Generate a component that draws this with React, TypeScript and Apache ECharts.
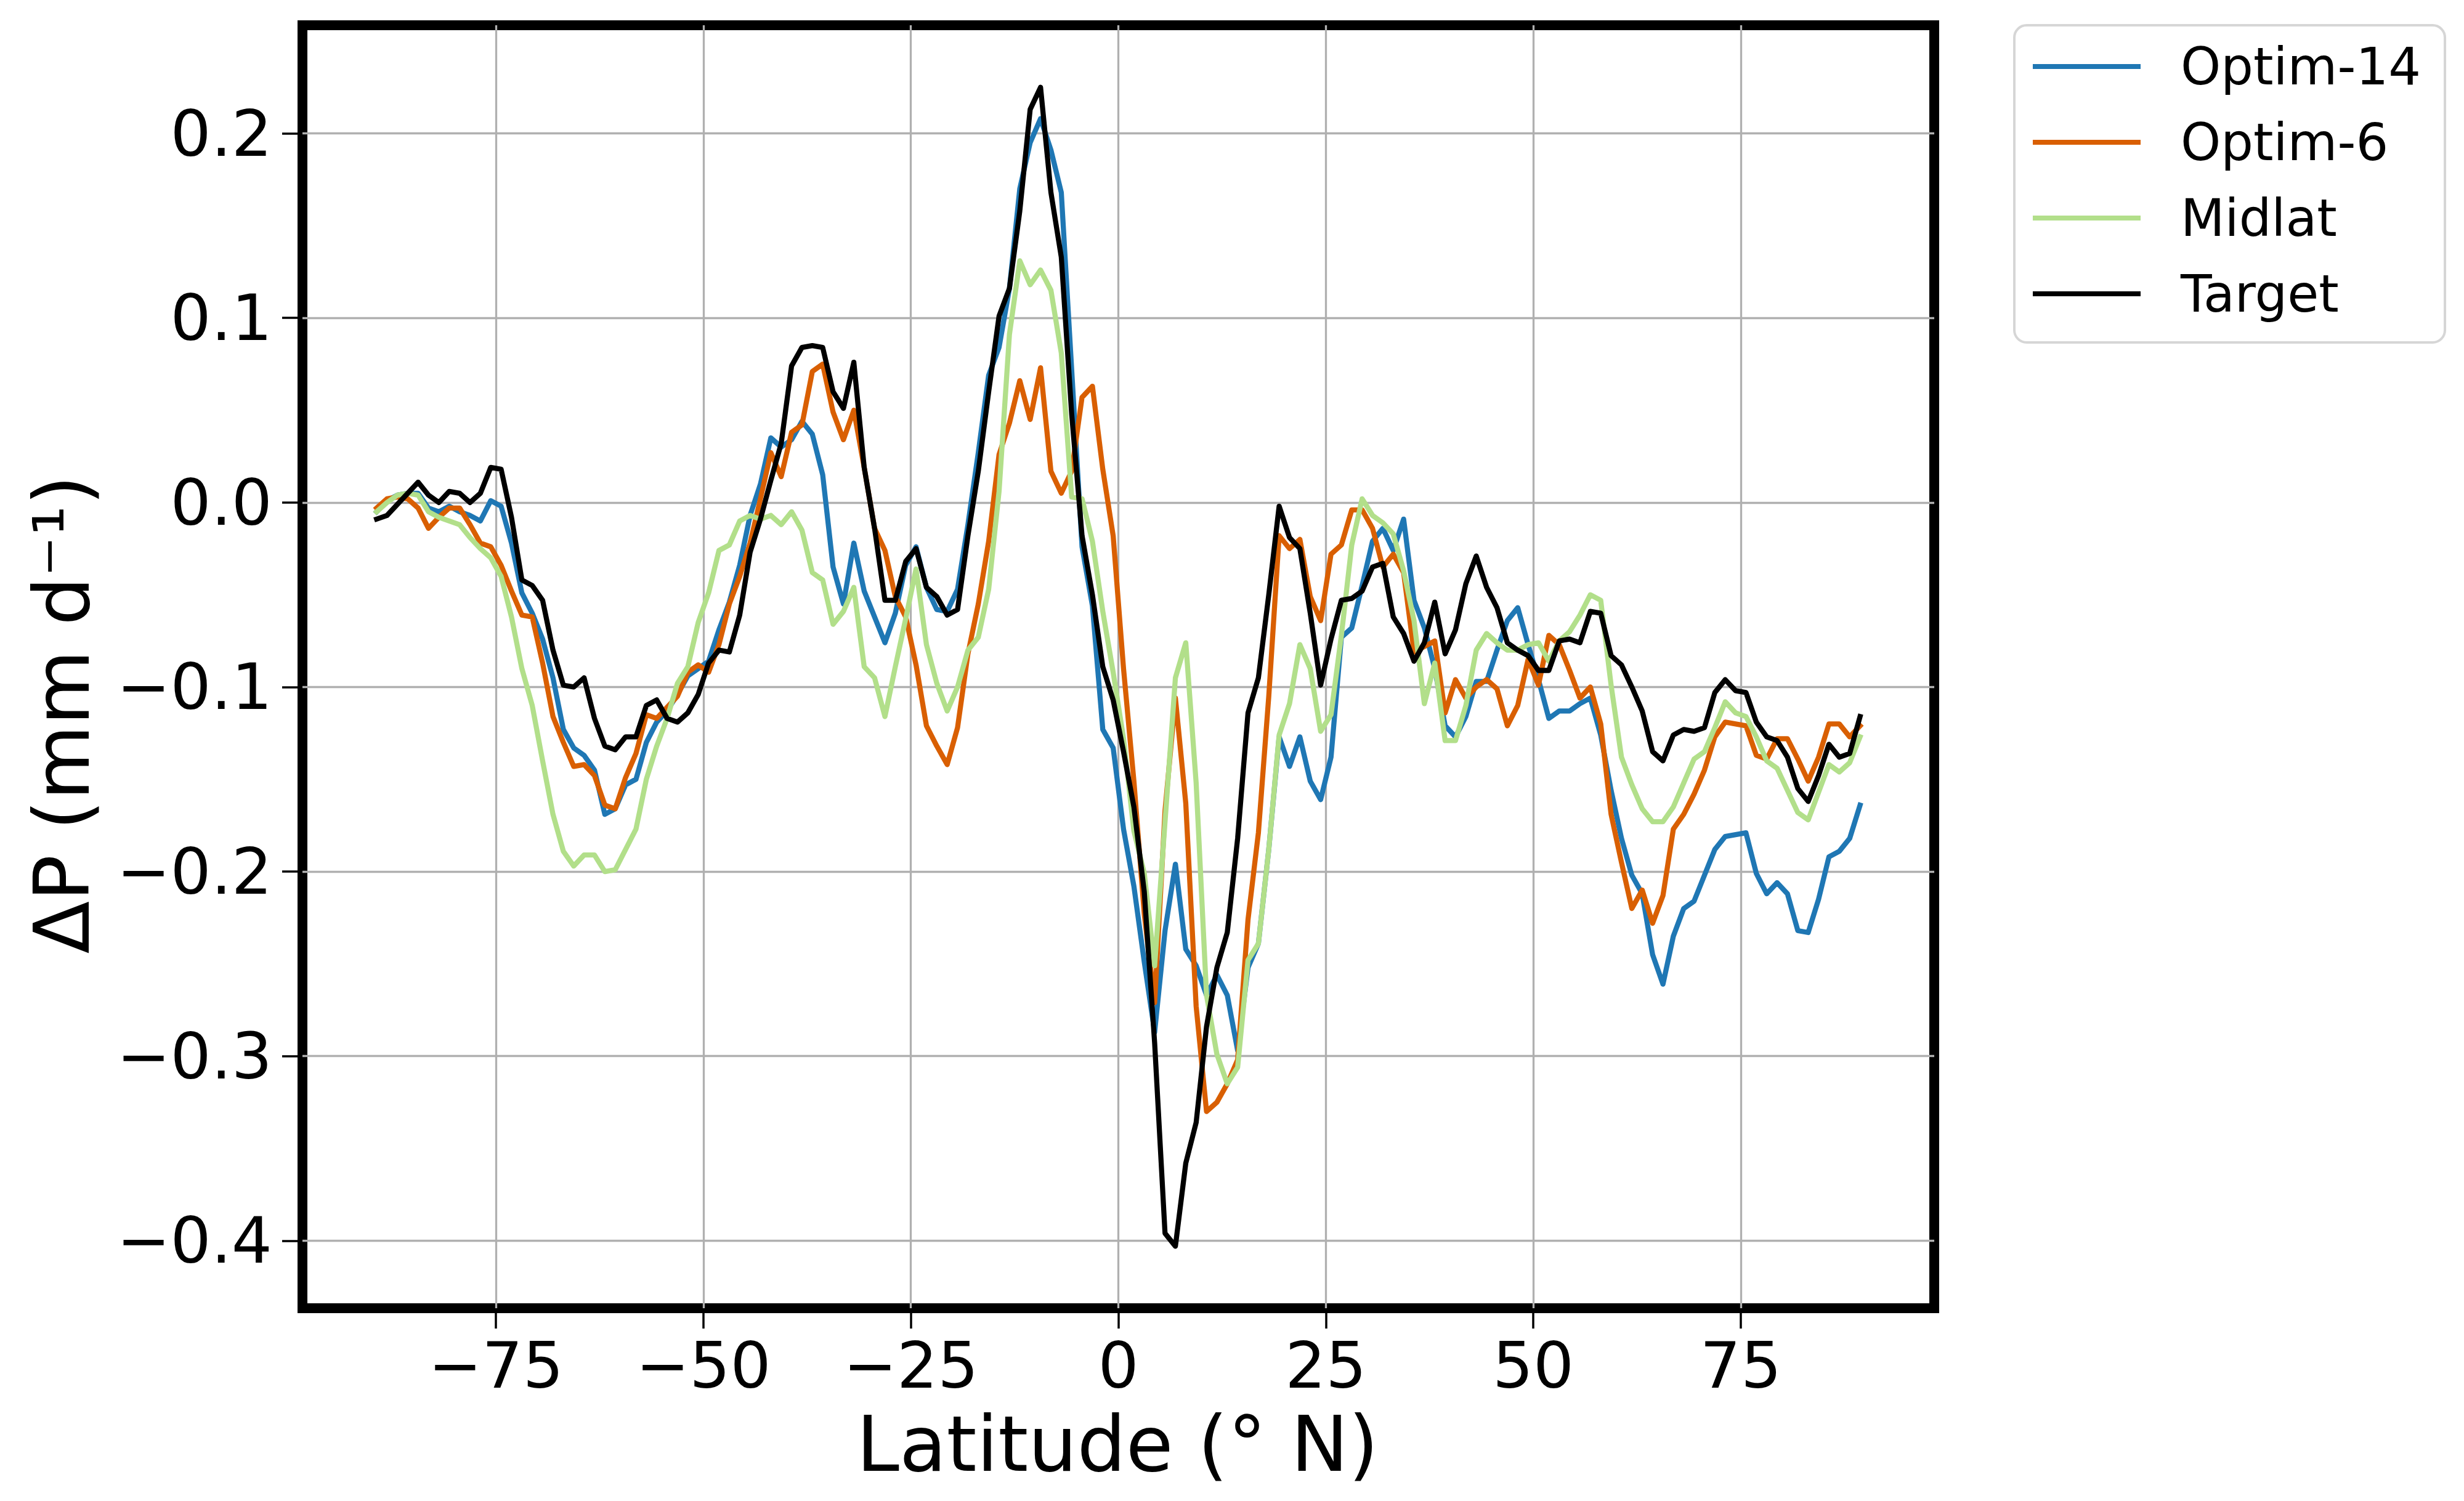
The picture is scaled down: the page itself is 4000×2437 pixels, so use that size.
import React, { useEffect, useRef } from "react";
import * as echarts from "echarts";

const latitudes = [
  -89.375, -88.125, -86.875, -85.625, -84.375, -83.125, -81.875, -80.625, -79.375, -78.125,
  -76.875, -75.625, -74.375, -73.125, -71.875, -70.625, -69.375, -68.125, -66.875, -65.625,
  -64.375, -63.125, -61.875, -60.625, -59.375, -58.125, -56.875, -55.625, -54.375, -53.125,
  -51.875, -50.625, -49.375, -48.125, -46.875, -45.625, -44.375, -43.125, -41.875, -40.625,
  -39.375, -38.125, -36.875, -35.625, -34.375, -33.125, -31.875, -30.625, -29.375, -28.125,
  -26.875, -25.625, -24.375, -23.125, -21.875, -20.625, -19.375, -18.125, -16.875, -15.625,
  -14.375, -13.125, -11.875, -10.625, -9.375, -8.125, -6.875, -5.625, -4.375, -3.125,
  -1.875, -0.625, 0.625, 1.875, 3.125, 4.375, 5.625, 6.875, 8.125, 9.375,
  10.625, 11.875, 13.125, 14.375, 15.625, 16.875, 18.125, 19.375, 20.625, 21.875,
  23.125, 24.375, 25.625, 26.875, 28.125, 29.375, 30.625, 31.875, 33.125, 34.375,
  35.625, 36.875, 38.125, 39.375, 40.625, 41.875, 43.125, 44.375, 45.625, 46.875,
  48.125, 49.375, 50.625, 51.875, 53.125, 54.375, 55.625, 56.875, 58.125, 59.375,
  60.625, 61.875, 63.125, 64.375, 65.625, 66.875, 68.125, 69.375, 70.625, 71.875,
  73.125, 74.375, 75.625, 76.875, 78.125, 79.375, 80.625, 81.875, 83.125, 84.375,
  85.625, 86.875, 88.125, 89.375,
];

const optim14 = [
  -0.005, 0.001, 0.004, 0.005, 0.005, -0.003, -0.005, -0.002, -0.005, -0.007,
  -0.010, 0.001, -0.002, -0.022, -0.049, -0.060, -0.074, -0.095, -0.123, -0.133,
  -0.137, -0.145, -0.169, -0.166, -0.153, -0.150, -0.130, -0.119, -0.113, -0.104,
  -0.094, -0.090, -0.086, -0.069, -0.054, -0.034, -0.007, 0.010, 0.035, 0.030,
  0.034, 0.044, 0.037, 0.015, -0.035, -0.055, -0.022, -0.048, -0.062, -0.076,
  -0.060, -0.034, -0.024, -0.046, -0.058, -0.059, -0.047, -0.012, 0.027, 0.069,
  0.084, 0.116, 0.170, 0.195, 0.208, 0.191, 0.168, 0.072, -0.024, -0.056,
  -0.123, -0.133, -0.177, -0.208, -0.249, -0.287, -0.232, -0.196, -0.242, -0.251,
  -0.267, -0.256, -0.267, -0.297, -0.252, -0.239, -0.188, -0.127, -0.143, -0.127,
  -0.151, -0.161, -0.138, -0.073, -0.068, -0.045, -0.021, -0.014, -0.026, -0.009,
  -0.053, -0.068, -0.090, -0.121, -0.127, -0.116, -0.097, -0.097, -0.080, -0.064,
  -0.057, -0.077, -0.096, -0.117, -0.113, -0.113, -0.109, -0.106, -0.126, -0.156,
  -0.182, -0.202, -0.212, -0.245, -0.261, -0.235, -0.220, -0.216, -0.202, -0.188,
  -0.181, -0.180, -0.179, -0.201, -0.212, -0.206, -0.212, -0.232, -0.233, -0.215,
  -0.192, -0.189, -0.182, -0.164,
];

const optim6 = [
  -0.003, 0.002, 0.003, 0.002, -0.003, -0.014, -0.008, -0.003, -0.003, -0.012,
  -0.022, -0.024, -0.034, -0.048, -0.061, -0.062, -0.087, -0.116, -0.130, -0.143,
  -0.142, -0.148, -0.164, -0.166, -0.149, -0.136, -0.115, -0.117, -0.111, -0.105,
  -0.092, -0.088, -0.092, -0.077, -0.055, -0.040, -0.022, 0.002, 0.027, 0.014,
  0.038, 0.042, 0.071, 0.075, 0.049, 0.034, 0.050, 0.019, -0.014, -0.026,
  -0.051, -0.062, -0.088, -0.121, -0.132, -0.142, -0.122, -0.082, -0.055, -0.021,
  0.026, 0.043, 0.066, 0.045, 0.073, 0.017, 0.005, 0.017, 0.057, 0.063,
  0.018, -0.018, -0.090, -0.151, -0.223, -0.271, -0.167, -0.106, -0.163, -0.273,
  -0.330, -0.325, -0.315, -0.302, -0.226, -0.179, -0.105, -0.018, -0.025, -0.020,
  -0.051, -0.064, -0.028, -0.023, -0.004, -0.004, -0.014, -0.035, -0.028, -0.038,
  -0.081, -0.078, -0.075, -0.114, -0.096, -0.106, -0.100, -0.096, -0.101, -0.121,
  -0.110, -0.085, -0.099, -0.072, -0.077, -0.091, -0.106, -0.100, -0.120, -0.169,
  -0.195, -0.220, -0.210, -0.228, -0.213, -0.177, -0.169, -0.158, -0.145, -0.127,
  -0.119, -0.120, -0.121, -0.137, -0.139, -0.128, -0.128, -0.139, -0.151, -0.138,
  -0.120, -0.120, -0.127, -0.121,
];

const midlat = [
  -0.005, 0.000, 0.004, 0.005, 0.004, -0.005, -0.008, -0.010, -0.012, -0.019,
  -0.025, -0.030, -0.040, -0.062, -0.090, -0.110, -0.140, -0.169, -0.189, -0.197,
  -0.191, -0.191, -0.200, -0.199, -0.188, -0.177, -0.150, -0.132, -0.117, -0.098,
  -0.089, -0.065, -0.049, -0.026, -0.023, -0.010, -0.007, -0.009, -0.007, -0.012,
  -0.005, -0.015, -0.038, -0.042, -0.066, -0.059, -0.046, -0.089, -0.095, -0.116,
  -0.089, -0.063, -0.036, -0.077, -0.098, -0.113, -0.100, -0.080, -0.073, -0.047,
  0.006, 0.091, 0.131, 0.118, 0.126, 0.115, 0.081, 0.003, 0.002, -0.021,
  -0.059, -0.092, -0.128, -0.178, -0.201, -0.251, -0.173, -0.095, -0.076, -0.152,
  -0.267, -0.299, -0.315, -0.306, -0.248, -0.239, -0.188, -0.126, -0.109, -0.077,
  -0.090, -0.124, -0.115, -0.072, -0.023, 0.002, -0.007, -0.011, -0.017, -0.037,
  -0.064, -0.109, -0.087, -0.129, -0.129, -0.110, -0.080, -0.071, -0.076, -0.080,
  -0.080, -0.077, -0.076, -0.086, -0.075, -0.070, -0.061, -0.050, -0.053, -0.099,
  -0.138, -0.153, -0.166, -0.173, -0.173, -0.165, -0.152, -0.139, -0.135, -0.122,
  -0.108, -0.114, -0.116, -0.127, -0.140, -0.144, -0.156, -0.168, -0.172, -0.157,
  -0.142, -0.146, -0.141, -0.127,
];

const target = [
  -0.009, -0.007, -0.001, 0.005, 0.011, 0.004, 0.000, 0.006, 0.005, 0.000,
  0.005, 0.019, 0.018, -0.008, -0.042, -0.045, -0.053, -0.080, -0.099, -0.100,
  -0.095, -0.117, -0.132, -0.134, -0.127, -0.127, -0.110, -0.107, -0.117, -0.119,
  -0.114, -0.104, -0.087, -0.080, -0.081, -0.061, -0.027, -0.009, 0.012, 0.032,
  0.074, 0.084, 0.085, 0.084, 0.060, 0.051, 0.076, 0.019, -0.014, -0.053,
  -0.053, -0.032, -0.025, -0.046, -0.051, -0.061, -0.058, -0.018, 0.017, 0.060,
  0.101, 0.116, 0.158, 0.213, 0.225, 0.168, 0.133, 0.048, -0.018, -0.050,
  -0.089, -0.107, -0.135, -0.165, -0.211, -0.293, -0.396, -0.403, -0.358, -0.336,
  -0.284, -0.252, -0.233, -0.182, -0.114, -0.095, -0.050, -0.002, -0.019, -0.025,
  -0.060, -0.099, -0.074, -0.053, -0.052, -0.048, -0.035, -0.033, -0.062, -0.071,
  -0.086, -0.076, -0.054, -0.082, -0.069, -0.044, -0.029, -0.046, -0.057, -0.076,
  -0.080, -0.083, -0.091, -0.091, -0.075, -0.074, -0.076, -0.059, -0.060, -0.083,
  -0.088, -0.100, -0.113, -0.135, -0.140, -0.126, -0.123, -0.124, -0.122, -0.103,
  -0.096, -0.102, -0.103, -0.119, -0.127, -0.129, -0.138, -0.155, -0.162, -0.148,
  -0.131, -0.138, -0.136, -0.116,
];

const seriesNames = ["Optim-14", "Optim-6", "Midlat", "Target"];
const seriesColors = ["#1f77b4", "#d95f02", "#b2df8a", "#000000"];
const seriesValues = [optim14, optim6, midlat, target];

const xTicks = [-75, -50, -25, 0, 25, 50, 75];
const yTicks = [-0.4, -0.3, -0.2, -0.1, 0, 0.1, 0.2];

const xLabelText = "Latitude (° N)";
const yLabelText = "ΔP (mm d⁻¹)";

const FONT = "DejaVu Sans";

function fmtMinus(s: string) {
  return s.replace("-", "\u2212");
}

export default function App() {
  const ref = useRef<HTMLDivElement>(null);

  useEffect(() => {
    if (!ref.current) return;
    const chart = echarts.init(ref.current, null, { renderer: "svg" });

    const option: any = {
      animation: false,
      backgroundColor: "#ffffff",
      textStyle: { fontFamily: FONT },
      grid: {
        left: 491,
        top: 41,
        width: 2649,
        height: 2083,
        show: true,
        borderColor: "#000000",
        borderWidth: 16,
        backgroundColor: "transparent",
        containLabel: false,
        outerBoundsMode: "none",
      },
      xAxis: {
        type: "value",
        position: "bottom",
        min: -98.3125,
        max: 98.3125,
        axisLine: { show: false, onZero: false },
        axisTick: {
          show: true,
          length: 33,
          customValues: xTicks,
          lineStyle: { color: "#000000", width: 3.5 },
        },
        axisLabel: {
          customValues: xTicks,
          fontSize: 104,
          fontFamily: FONT,
          color: "#000000",
          margin: 41,
          formatter: (v: number) => fmtMinus(String(Math.round(v))),
        },
        splitLine: { show: true, lineStyle: { color: "#b0b0b0", width: 3.3 } },
      },
      yAxis: {
        type: "value",
        position: "left",
        min: -0.4366,
        max: 0.2586,
        axisLine: { show: false, onZero: false },
        axisTick: {
          show: true,
          length: 33,
          customValues: yTicks,
          lineStyle: { color: "#000000", width: 3.5 },
        },
        axisLabel: {
          customValues: yTicks,
          fontSize: 104,
          fontFamily: FONT,
          color: "#000000",
          margin: 49,
          formatter: (v: number) => fmtMinus(v.toFixed(1)),
        },
        splitLine: { show: true, lineStyle: { color: "#b0b0b0", width: 3.3 } },
      },
      legend: {
        orient: "vertical",
        left: 3270,
        top: 41,
        itemWidth: 175,
        itemHeight: 8,
        itemGap: 23,
        icon: "rect",
        padding: [17, 39, 29, 30],
        backgroundColor: "rgba(255,255,255,0.8)",
        borderColor: "rgba(204,204,204,0.8)",
        borderWidth: 4,
        borderRadius: 20,
        textStyle: {
          fontFamily: FONT,
          fontSize: 83,
          color: "#000000",
          lineHeight: 100,
          padding: [0, 0, 0, 60],
        },
        data: seriesNames,
      },
      graphic: [
        {
          type: "text",
          x: 1814,
          y: 2344,
          style: {
            text: xLabelText,
            fontSize: 125,
            fontFamily: FONT,
            fill: "#000000",
            textAlign: "center",
            textVerticalAlign: "middle",
            align: "center",
            verticalAlign: "middle",
          },
        },
        {
          type: "text",
          x: 100,
          y: 1160,
          rotation: Math.PI / 2,
          style: {
            text: yLabelText,
            fontSize: 125,
            fontFamily: FONT,
            fill: "#000000",
            textAlign: "center",
            textVerticalAlign: "middle",
            align: "center",
            verticalAlign: "middle",
          },
        },
      ],
      series: seriesNames.map((name, k) => ({
        name,
        type: "line",
        showSymbol: false,
        symbol: "none",
        color: seriesColors[k],
        lineStyle: { width: 8.3, color: seriesColors[k], join: "round", cap: "square" },
        data: latitudes.map((lat, i) => [lat, seriesValues[k][i]]),
        z: 2 + k,
      })),
    };

    chart.setOption(option);
    return () => {
      chart.dispose();
    };
  }, []);

  return (
    <div
      ref={ref}
      style={{
        position: "absolute",
        left: 0,
        top: 0,
        width: "4000px",
        height: "2437px",
        background: "#ffffff",
      }}
    />
  );
}
